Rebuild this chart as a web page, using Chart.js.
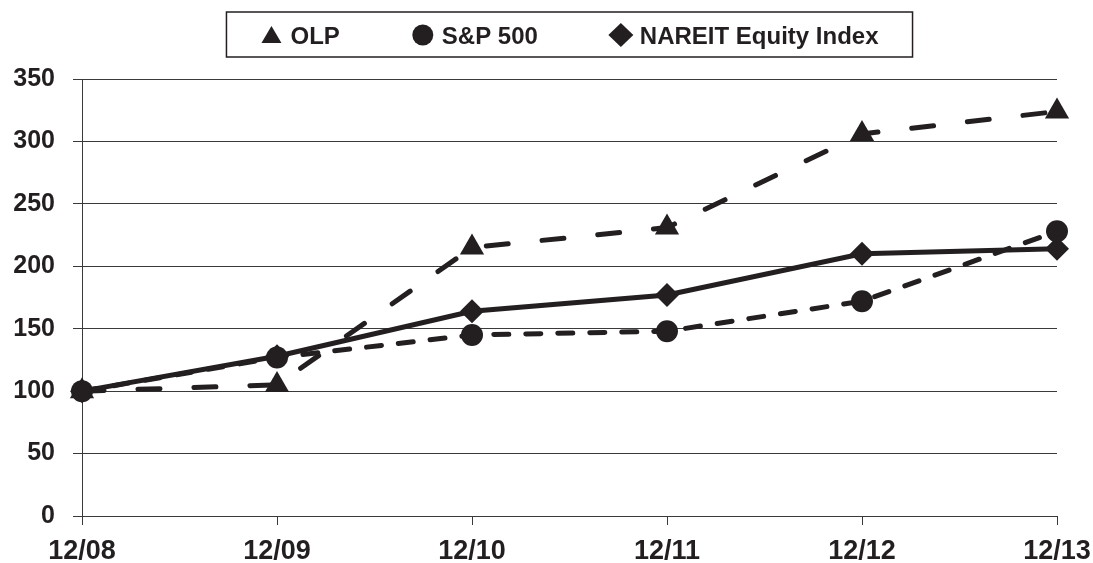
<!DOCTYPE html>
<html>
<head>
<meta charset="utf-8">
<script src="https://cdn.jsdelivr.net/npm/chart.js@4"></script>
<style>
  html, body { margin: 0; padding: 0; background: #fff; }
  #wrap { width: 1093px; height: 563px; }
</style>
</head>
<body>
<div id="wrap"><canvas id="chart"></canvas></div>
<script>
const periods = ["12/08", "12/09", "12/10", "12/11", "12/12", "12/13"];
const olp = [100, 105, 215, 231, 306, 324];
const sp500 = [100, 127, 145, 148, 172, 228];
const nareit = [100, 128, 164, 177, 210, 214];

const ink = "#231f20";
const gridColor = "#3a3a3a";
const family = "'Liberation Sans', Arial, Helvetica, sans-serif";

// boxed legend across the top, centred over the plot area
const boxLegend = {
  id: "boxLegend",
  afterDraw(chart) {
    const ctx = chart.ctx;
    const area = chart.chartArea;
    const sets = chart.data.datasets;
    ctx.save();
    ctx.font = "bold 24px " + family;
    const mark = 22, markGap = 8, itemGap = 72, padX = 34;
    const widths = sets.map(ds => mark + markGap + ctx.measureText(ds.label).width);
    const inner = widths.reduce((a, b) => a + b, 0) + itemGap * (widths.length - 1);
    const boxW = inner + padX * 2;
    const boxX = (area.left + area.right) / 2 - boxW / 2;
    const boxY = 12, boxH = 45;
    ctx.strokeStyle = ink;
    ctx.lineWidth = 1.5;
    ctx.strokeRect(boxX, boxY, boxW, boxH);

    let x = boxX + padX;
    const cy = boxY + 23;
    ctx.fillStyle = ink;
    sets.forEach((ds, i) => {
      const cx = x + mark / 2;
      ctx.beginPath();
      if (ds.pointStyle === "triangle") {
        ctx.moveTo(cx, cy - 9);
        ctx.lineTo(cx + 10, cy + 8);
        ctx.lineTo(cx - 10, cy + 8);
      } else if (ds.pointStyle === "circle") {
        ctx.arc(cx, cy, 10.5, 0, Math.PI * 2);
      } else {
        ctx.moveTo(cx, cy - 12);
        ctx.lineTo(cx + 12.5, cy);
        ctx.lineTo(cx, cy + 12);
        ctx.lineTo(cx - 12.5, cy);
      }
      ctx.closePath();
      ctx.fill();
      ctx.textBaseline = "alphabetic";
      ctx.textAlign = "left";
      ctx.fillText(ds.label, x + mark + markGap, boxY + 32);
      x += widths[i] + itemGap;
    });
    ctx.restore();
  }
};

const ctx = document.getElementById("chart").getContext("2d");
new Chart(ctx, {
  type: "line",
  data: {
    labels: periods,
    datasets: [
      {
        label: "OLP",
        data: olp,
        borderColor: ink,
        backgroundColor: ink,
        borderWidth: 5,
        borderDash: [22, 34],
        borderCapStyle: "round",
        pointStyle: "triangle",
        pointRadius: 14,
        pointBorderWidth: 0,
        order: 1
      },
      {
        label: "S&P 500",
        data: sp500,
        borderColor: ink,
        backgroundColor: ink,
        borderWidth: 5,
        borderDash: [15, 17],
        borderCapStyle: "round",
        pointStyle: "circle",
        pointRadius: 11,
        pointBorderWidth: 0,
        order: 0
      },
      {
        label: "NAREIT Equity Index",
        data: nareit,
        borderColor: ink,
        backgroundColor: ink,
        borderWidth: 5,
        pointStyle: "rectRot",
        pointRadius: 12,
        pointBorderWidth: 0,
        order: 2
      }
    ]
  },
  options: {
    responsive: true,
    maintainAspectRatio: false,
    animation: false,
    layout: { padding: { top: 79, right: 36, bottom: 0, left: 0 } },
    plugins: {
      legend: { display: false },
      tooltip: { enabled: false }
    },
    scales: {
      x: {
        offset: false,
        grid: { drawOnChartArea: false, drawTicks: true, tickLength: 9, color: gridColor, lineWidth: 1 },
        border: { display: true, color: gridColor, width: 1 },
        ticks: {
          color: ink,
          font: { family: family, size: 27, weight: "bold" },
          padding: 10,
          maxRotation: 0,
          autoSkip: false
        },
        afterFit: s => { s.height = 47; s.paddingLeft = 0; s.paddingRight = 0; }
      },
      y: {
        min: 0,
        max: 350,
        grid: { color: gridColor, lineWidth: 1, tickLength: 9 },
        border: { display: true, color: gridColor, width: 1 },
        ticks: {
          stepSize: 50,
          color: ink,
          font: { family: family, size: 25, weight: "bold" },
          padding: 18
        },
        afterFit: s => { s.width = 82; }
      }
    }
  },
  plugins: [boxLegend]
});
</script>
</body>
</html>
